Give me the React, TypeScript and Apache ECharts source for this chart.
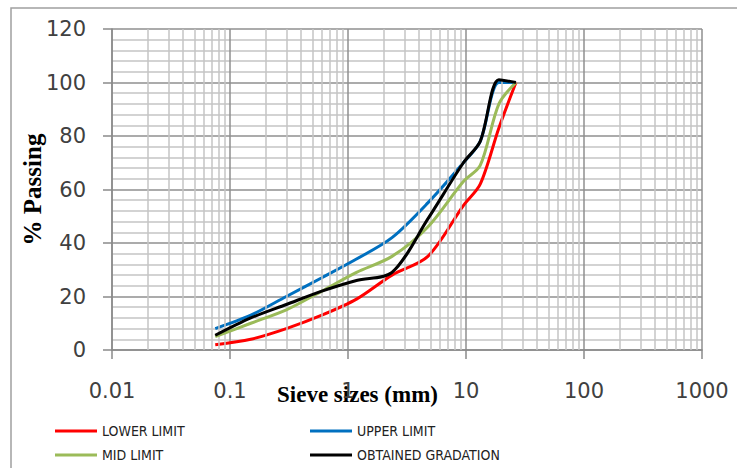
import React, { useEffect, useRef } from 'react';
import * as echarts from 'echarts';

const sieveSizes = [0.075, 0.15, 0.3, 0.6, 1.18, 2.36, 4.75, 9.5, 13.2, 19, 26.5];
const lowerLimit = [2, 4, 8, 13, 19, 28, 35, 54, 62, 83, 100];
const upperLimit = [8, 13, 20, 27, 34, 42, 55, 70, 78, 100, 100];
const midLimit = [5, 10, 15, 22, 29, 35, 46, 63, 69, 92, 100];
const obtainedGradation = [5.5, 12, 17, 22, 26, 29, 49, 70, 78, 101, 100];

const xTickLabels = ['0.01', '0.1', '1', '10', '100', '1000'];
const decades = [0.01, 0.1, 1, 10, 100];
const minorMultipliers = [2, 3, 4, 5, 6, 7, 8, 9];

const seriesNames = ['LOWER LIMIT', 'UPPER LIMIT', 'MID LIMIT', 'OBTAINED GRADATION'];
const seriesColors = ['#FF0000', '#0070C0', '#9BBB59', '#000000'];
const seriesValues = [lowerLimit, upperLimit, midLimit, obtainedGradation];

const labelFont = 'DejaVu Sans';

export default function App() {
  const ref = useRef<HTMLDivElement>(null);
  useEffect(() => {
    const chart = echarts.init(ref.current!, null, { renderer: 'svg' });
    const minorLines: any[] = [];
    decades.forEach((d) => minorMultipliers.forEach((m) => minorLines.push({ xAxis: Number((d * m).toPrecision(6)) })));

    const legendPos = [
      { left: 55, top: 424 },
      { left: 310, top: 424 },
      { left: 55, top: 448 },
      { left: 310, top: 448 },
    ];

    const option: any = {
      animation: false,
      backgroundColor: '#ffffff',
      grid: { left: 112, top: 29, right: 35, bottom: 118, containLabel: false },
      xAxis: {
        type: 'log',
        logBase: 10,
        min: 0.01,
        max: 1000,
        axisLine: { show: true, lineStyle: { color: '#8a8a8a', width: 1.5 } },
        axisTick: { show: true, inside: false, length: 9, lineStyle: { color: '#8a8a8a', width: 1.5 } },
        axisLabel: {
          margin: 30,
          fontFamily: labelFont,
          fontSize: 21,
          color: '#404040',
          formatter: (v: number) => {
            const s = String(Number(v.toPrecision(3)));
            return xTickLabels.includes(s) ? s : '';
          },
        },
        splitLine: { show: true, lineStyle: { color: '#8f8f8f', width: 1.5 } },
        minorTick: { show: false },
        minorSplitLine: { show: false },
      },
      yAxis: {
        type: 'value',
        min: 0,
        max: 120,
        interval: 20,
        name: '% Passing',
        nameLocation: 'middle',
        nameRotate: 90,
        nameGap: 67,
        nameMoveOverlap: false,
        nameTextStyle: { fontFamily: 'Liberation Serif', fontWeight: 'bold', fontSize: 25, color: '#000' },
        axisLine: { show: true, lineStyle: { color: '#8a8a8a', width: 1.5 } },
        axisTick: { show: true, inside: false, length: 9, lineStyle: { color: '#8a8a8a', width: 1.5 } },
        axisLabel: { margin: 26, fontFamily: labelFont, fontSize: 21, color: '#404040' },
        splitLine: { show: true, lineStyle: { color: '#8f8f8f', width: 1.5 } },
        minorTick: { show: false, splitNumber: 5 },
        minorSplitLine: { show: true, lineStyle: { color: '#c4c4c4', width: 1.5 } },
      },
      legend: seriesNames.map((n, i) => ({
        data: [n],
        left: legendPos[i].left,
        top: legendPos[i].top,
        padding: 0,
        icon: 'rect',
        itemWidth: 42,
        itemHeight: 3,
        selectedMode: false,
        textStyle: { fontFamily: "'Liberation Sans Narrow', 'DejaVu Sans Condensed', sans-serif", fontSize: 14, color: '#222' },
      })),
      graphic: [
        {
          type: 'rect',
          silent: true,
          shape: { x: 11, y: 8, width: 800, height: 500 },
          style: { fill: 'none', stroke: '#a0a0a0', lineWidth: 1.5 },
          z: -10,
        },
        {
          type: 'text',
          left: 277,
          top: 383,
          silent: true,
          style: { text: 'Sieve sizes (mm)', fontFamily: 'Liberation Serif', fontWeight: 'bold', fontSize: 23, fill: '#000' },
        },
      ],
      series: [
        {
          type: 'line',
          name: '_minor',
          data: [],
          z: 1,
          silent: true,
          markLine: {
            silent: true,
            symbol: ['none', 'none'],
            label: { show: false },
            lineStyle: { color: '#c4c4c4', width: 1.5, type: 'solid' },
            emphasis: { disabled: true },
            data: minorLines,
          },
        },
        ...seriesNames.map((n, i) => ({
          type: 'line',
          name: n,
          data: sieveSizes.map((s, k) => [s, seriesValues[i][k]]),
          smooth: 0.3,
          symbol: 'none',
          z: 3 + i,
          color: seriesColors[i],
          lineStyle: { color: seriesColors[i], width: 3 },
        })),
      ],
    };
    chart.setOption(option);
    return () => chart.dispose();
  }, []);
  return <div ref={ref} style={{ position: 'fixed', left: 0, top: 0, width: 737, height: 468, background: '#fff' }} />;
}
